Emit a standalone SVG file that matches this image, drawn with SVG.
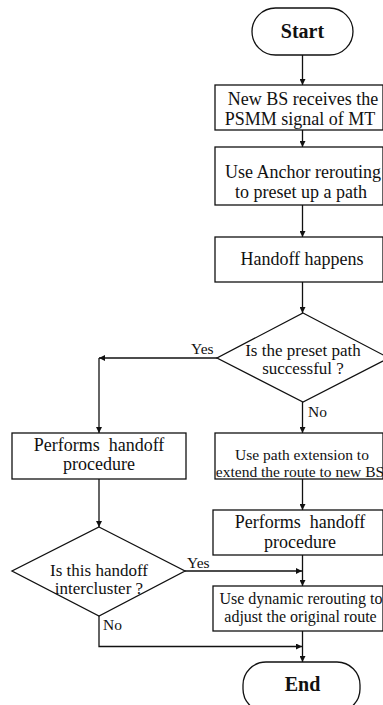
<svg xmlns="http://www.w3.org/2000/svg" width="383" height="705" viewBox="0 0 383 705">
<defs>
<style>
.s{fill:#fff;stroke:#111;stroke-width:1.3}
.c{fill:none;stroke:#111;stroke-width:1.3}
.t{font-family:"Liberation Serif","Times New Roman",serif;font-size:18px;fill:#111;text-anchor:middle}
.sm{font-size:15.5px}
.md{font-size:16px}
.dt{font-size:17px}
.b{font-weight:bold;font-size:20px}
.l{font-family:"Liberation Serif","Times New Roman",serif;font-size:15.5px;fill:#111}
</style>
<marker id="a" viewBox="0 0 10 10" refX="10" refY="5" markerWidth="7.5" markerHeight="6" markerUnits="userSpaceOnUse" orient="auto">
<path d="M0,0 L10,5 L0,10 z" fill="#111"/>
</marker>
</defs>
<rect width="383" height="705" fill="#fff"/>
<g id="connectors">
<line class="c" x1="302.5" y1="55" x2="302.5" y2="85" marker-end="url(#a)"/>
<line class="c" x1="302.5" y1="130" x2="302.5" y2="147" marker-end="url(#a)"/>
<line class="c" x1="302.5" y1="205" x2="302.5" y2="237" marker-end="url(#a)"/>
<line class="c" x1="302.5" y1="282" x2="302.5" y2="313" marker-end="url(#a)"/>
<line class="c" x1="217" y1="358" x2="99" y2="358" marker-end="url(#a)"/>
<line class="c" x1="99" y1="358" x2="99" y2="433" marker-end="url(#a)"/>
<line class="c" x1="302.5" y1="402" x2="302.5" y2="433" marker-end="url(#a)"/>
<line class="c" x1="302.5" y1="479" x2="302.5" y2="510" marker-end="url(#a)"/>
<line class="c" x1="99" y1="479" x2="99" y2="527" marker-end="url(#a)"/>
<line class="c" x1="302.5" y1="555" x2="302.5" y2="586" marker-end="url(#a)"/>
<line class="c" x1="185" y1="571" x2="302" y2="571" marker-end="url(#a)"/>
<line class="c" x1="302.5" y1="631" x2="302.5" y2="662" marker-end="url(#a)"/>
<polyline class="c" points="99,616 99,646.5 302,646.5" marker-end="url(#a)"/>
<text class="l" x="191" y="354">Yes</text>
<text class="l" x="308" y="417">No</text>
<text class="l" x="187" y="568">Yes</text>
<text class="l" x="103" y="630">No</text>
</g>
<g id="start">
<rect class="s" x="252" y="8" width="101" height="47" rx="23.5"/>
<text class="t b" x="302.5" y="38">Start</text>
</g>
<g id="receive">
<rect class="s" x="215" y="85" width="168" height="45"/>
<text class="t" x="303" y="105">New BS receives the</text>
<text class="t" x="300" y="125">PSMM signal of MT</text>
</g>
<g id="anchor">
<rect class="s" x="215" y="147" width="168" height="58"/>
<text class="t" x="303" y="178">Use Anchor rerouting</text>
<text class="t" x="301" y="198">to preset up a path</text>
</g>
<g id="happens">
<rect class="s" x="215" y="237" width="168" height="45"/>
<text class="t" x="302" y="265">Handoff happens</text>
</g>
<g id="decision1">
<polygon class="s" points="303,313 389,358 303,402 217,358"/>
<text class="t dt" x="303" y="356">Is the preset path</text>
<text class="t dt" x="303" y="374">successful ?</text>
</g>
<g id="perform-left">
<rect class="s" x="12" y="433" width="174" height="46"/>
<text class="t" x="99" y="451" xml:space="preserve">Performs  handoff</text>
<text class="t" x="99" y="470">procedure</text>
</g>
<g id="extension">
<rect class="s" x="215" y="433" width="168" height="46"/>
<text class="t sm" x="302" y="460">Use path extension to</text>
<text class="t sm" x="300" y="477">extend the route to new BS</text>
</g>
<g id="perform-right">
<rect class="s" x="213" y="510" width="170" height="45"/>
<text class="t" x="300" y="528" xml:space="preserve">Performs  handoff</text>
<text class="t" x="300" y="548">procedure</text>
</g>
<g id="decision2">
<polygon class="s" points="99,527 185,571 99,616 12,571"/>
<text class="t dt" x="99" y="576">Is this handoff</text>
<text class="t dt" x="99" y="594">intercluster ?</text>
</g>
<g id="dynamic">
<rect class="s" x="213" y="586" width="170" height="45"/>
<text class="t md" x="301" y="604">Use dynamic rerouting to</text>
<text class="t md" x="300.5" y="622">adjust the original route</text>
</g>
<g id="end">
<rect class="s" x="243" y="662" width="117" height="50" rx="23"/>
<text class="t b" x="302.5" y="691">End</text>
</g>
</svg>
